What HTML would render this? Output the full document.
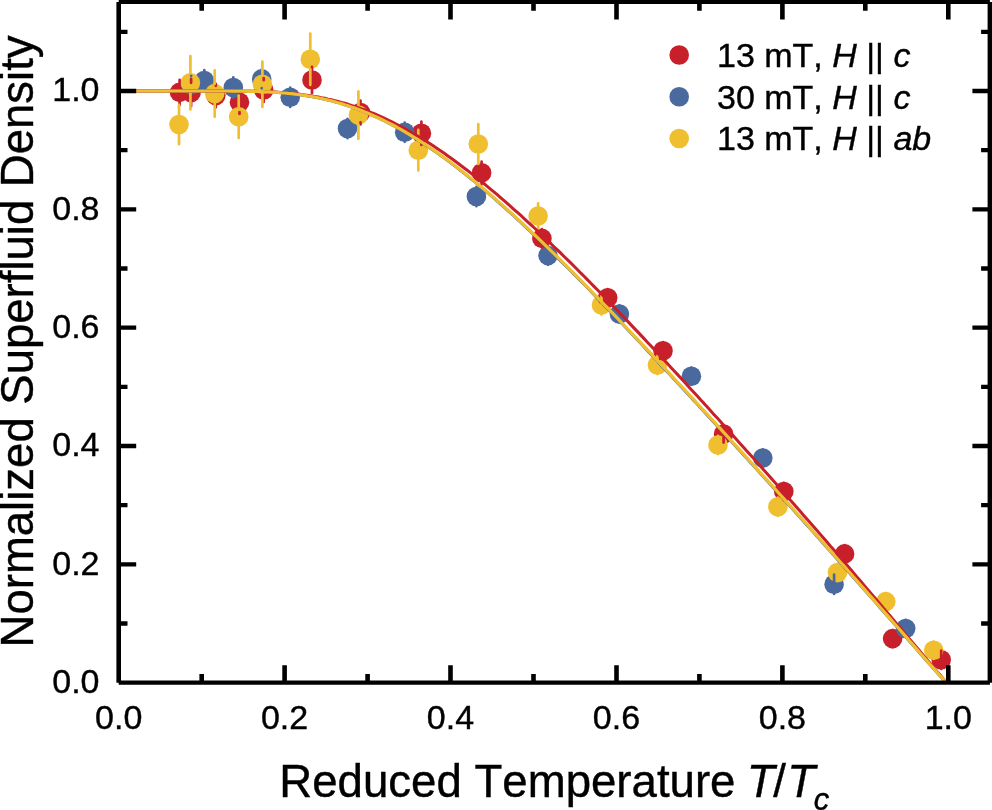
<!DOCTYPE html>
<html><head><meta charset="utf-8"><title>Normalized Superfluid Density</title>
<style>html,body{margin:0;padding:0;background:#fff}body{width:992px;height:810px;overflow:hidden}svg{display:block}text{font-kerning:none;stroke:#000;stroke-width:0.4px;font-family:"Liberation Sans",sans-serif;fill:#000}.i{font-style:italic}</style></head><body>
<svg width="992" height="810" viewBox="0 0 992 810">
<rect width="992" height="810" fill="#fff"/>
<g fill="#f0bf30"><circle cx="538.1" cy="216.0" r="9.8"/><circle cx="601.5" cy="305" r="9.8"/><circle cx="657.4" cy="365" r="9.8"/></g>
<g fill="#4a6a9f"><circle cx="548" cy="255.6" r="9.8"/><circle cx="619.4" cy="314" r="9.8"/><circle cx="691.4" cy="376.2" r="9.8"/></g>
<g fill="#c8202a"><circle cx="179.6" cy="92.4" r="9.8"/><circle cx="191.1" cy="92.6" r="9.8"/><circle cx="215.8" cy="95.6" r="9.8"/><circle cx="239.5" cy="102.3" r="9.8"/><circle cx="263.7" cy="90.0" r="9.8"/><circle cx="312" cy="80" r="9.8"/><circle cx="360.5" cy="112.5" r="9.8"/><circle cx="421.4" cy="133.3" r="9.8"/><circle cx="481.6" cy="172.8" r="9.8"/><circle cx="541.9" cy="238.4" r="9.8"/><circle cx="607.7" cy="297.7" r="9.8"/><circle cx="663" cy="350.8" r="9.8"/><circle cx="723.6" cy="434" r="9.8"/><circle cx="783.8" cy="491.5" r="9.8"/><circle cx="844.6" cy="553.9" r="9.8"/><circle cx="892.6" cy="638.6" r="9.8"/><circle cx="941.2" cy="659.8" r="9.8"/></g>
<g fill="#4a6a9f"><circle cx="191.1" cy="85.0" r="9.8"/><circle cx="204.3" cy="80.5" r="9.8"/><circle cx="233.3" cy="87.5" r="9.8"/><circle cx="261.7" cy="78.9" r="9.8"/><circle cx="290.2" cy="97.2" r="9.8"/><circle cx="347.5" cy="128.5" r="9.8"/><circle cx="404.7" cy="132.2" r="9.8"/><circle cx="476.4" cy="196.5" r="9.8"/><circle cx="762.8" cy="458" r="9.8"/><circle cx="834.1" cy="584.2" r="9.8"/><circle cx="905.7" cy="628.5" r="9.8"/></g>
<g fill="#f0bf30"><circle cx="179.0" cy="124.5" r="9.8"/><circle cx="190.4" cy="82.7" r="9.8"/><circle cx="214.7" cy="93.6" r="9.8"/><circle cx="238.7" cy="116.8" r="9.8"/><circle cx="262.4" cy="84.2" r="9.8"/><circle cx="310.3" cy="59.2" r="9.8"/><circle cx="358.4" cy="115.0" r="9.8"/><circle cx="418.3" cy="150.2" r="9.8"/><circle cx="478.3" cy="144.0" r="9.8"/><circle cx="718" cy="445" r="9.8"/><circle cx="777.9" cy="506.7" r="9.8"/><circle cx="837.5" cy="572.5" r="9.8"/><circle cx="885.8" cy="601.6" r="9.8"/><circle cx="933.7" cy="650.2" r="9.8"/></g>
<path stroke="#c8202a" stroke-width="2.7" stroke-linecap="round" fill="none" d="M179.6 79.8V82.6M179.6 102.2V105.1M191.1 78.9V82.8M191.1 102.4V106.2M215.8 83.9V85.8M215.8 105.4V107.2M239.5 90.6V92.5M239.5 112.1V114.0M263.7 78.0V80.2M263.7 99.8V102.0M312 66.8V70.2M312 89.8V93.2M360.5 100.5V102.7M360.5 122.3V124.5M421.4 121.7V123.5M421.4 143.1V145.0M481.6 161.5V163.0M481.6 182.6V184.2M541.9 229.2V247.6M607.7 289.1V306.3M663 342.2V359.4M723.6 425.4V442.6M783.8 482.9V500.1M844.6 545.2V562.5M892.6 630.0V647.2M941.2 650.6V668.9"/>
<path stroke="#4a6a9f" stroke-width="2.7" stroke-linecap="round" fill="none" d="M191.1 75.8v0.1M191.1 94.2v-0.1M204.3 70.1V70.7M204.3 90.3V90.9M233.3 77.3V77.7M233.3 97.3V97.7M261.7 69.5v0.1M261.7 88.3v-0.1M290.2 87.5v0.1M290.2 106.9v-0.1M347.5 118.8v0.1M347.5 138.2v-0.1M404.7 122.5v0.1M404.7 141.8v-0.1M476.4 186.8v0.1M476.4 206.2v-0.1M548 246.4V264.8M619.4 305.4V322.6M691.4 367.6V384.8M762.8 449.4V466.6M834.1 574.6V593.9M905.7 619.9V637.1"/>
<path stroke="#f0bf30" stroke-width="2.7" stroke-linecap="round" fill="none" d="M179.0 104.8V114.7M179.0 134.3V144.2M190.4 56.1V72.9M190.4 92.5V109.4M214.7 70.4V83.8M214.7 103.4V116.8M238.7 95.6V107.0M238.7 126.6V138.0M262.4 61.6V74.4M262.4 94.0V106.9M310.3 33.6V49.4M310.3 69.0V84.9M358.4 91.3V105.2M358.4 124.8V138.7M418.3 129.9V140.4M418.3 160.0V170.4M478.3 124.0V134.2M478.3 153.8V164.0M538.1 203.3V228.7M601.5 295.4V314.6M657.4 355.9V374.1M718 435.9V454.1M777.9 497.6V515.9M837.5 563.9V581.1M885.8 593.0V610.2M933.7 641.6V658.9"/>
<g fill="none" stroke-width="3.2" stroke-linejoin="round">
<path stroke="#4a6a9f" stroke-width="2.9" d="M118.7 91.0 L122.0 91.0 L125.3 91.0 L128.7 91.0 L132.0 91.0 L135.3 91.0 L138.6 91.0 L142.0 91.0 L145.3 91.0 L148.6 91.0 L151.9 91.0 L155.3 91.0 L158.6 91.0 L161.9 91.0 L165.2 91.0 L168.5 91.0 L171.9 91.0 L175.2 91.0 L178.5 91.0 L181.8 91.0 L185.2 91.0 L188.5 91.0 L191.8 91.0 L195.1 91.0 L198.4 91.0 L201.8 91.0 L205.1 91.0 L208.4 91.0 L211.7 91.0 L215.1 91.0 L218.4 91.0 L221.7 91.0 L225.0 91.0 L228.4 91.0 L231.7 91.1 L235.0 91.1 L238.3 91.1 L241.6 91.2 L245.0 91.2 L248.3 91.3 L251.6 91.3 L254.9 91.4 L258.3 91.5 L261.6 91.6 L264.9 91.8 L268.2 91.9 L271.5 92.1 L274.9 92.3 L278.2 92.5 L281.5 92.8 L284.8 93.1 L288.2 93.4 L291.5 93.7 L294.8 94.1 L298.1 94.5 L301.5 95.0 L304.8 95.5 L308.1 96.0 L311.4 96.6 L314.7 97.2 L318.1 97.8 L321.4 98.5 L324.7 99.3 L328.0 100.1 L331.4 100.9 L334.7 101.8 L338.0 102.7 L341.3 103.7 L344.6 104.8 L348.0 105.8 L351.3 107.0 L354.6 108.2 L357.9 109.4 L361.3 110.7 L364.6 112.0 L367.9 113.4 L371.2 114.8 L374.6 116.3 L377.9 117.8 L381.2 119.4 L384.5 121.0 L387.8 122.7 L391.2 124.5 L394.5 126.2 L397.8 128.1 L401.1 129.9 L404.5 131.8 L407.8 133.8 L411.1 135.8 L414.4 137.9 L417.7 139.9 L421.1 142.1 L424.4 144.3 L427.7 146.5 L431.0 148.7 L434.4 151.0 L437.7 153.4 L441.0 155.8 L444.3 158.2 L447.7 160.6 L451.0 163.1 L454.3 165.6 L457.6 168.2 L460.9 170.8 L464.3 173.4 L467.6 176.1 L470.9 178.8 L474.2 181.5 L477.6 184.2 L480.9 187.0 L484.2 189.8 L487.5 192.7 L490.8 195.5 L494.2 198.4 L497.5 201.4 L500.8 204.3 L504.1 207.3 L507.5 210.3 L510.8 213.3 L514.1 216.3 L517.4 219.4 L520.8 222.5 L524.1 225.6 L527.4 228.7 L530.7 231.8 L534.0 235.0 L537.4 238.1 L540.7 241.3 L544.0 244.6 L547.3 247.8 L550.7 251.0 L554.0 254.3 L557.3 257.6 L560.6 260.9 L563.9 264.2 L567.3 267.5 L570.6 270.8 L573.9 274.1 L577.2 277.5 L580.6 280.9 L583.9 284.2 L587.2 287.6 L590.5 291.0 L593.9 294.4 L597.2 297.9 L600.5 301.3 L603.8 304.7 L607.1 308.2 L610.5 311.6 L613.8 315.1 L617.1 318.6 L620.4 322.1 L623.8 325.6 L627.1 329.1 L630.4 332.6 L633.7 336.1 L637.0 339.6 L640.4 343.1 L643.7 346.6 L647.0 350.2 L650.3 353.7 L653.7 357.3 L657.0 360.8 L660.3 364.4 L663.6 367.9 L667.0 371.5 L670.3 375.1 L673.6 378.7 L676.9 382.2 L680.2 385.8 L683.6 389.4 L686.9 393.0 L690.2 396.6 L693.5 400.2 L696.9 403.8 L700.2 407.4 L703.5 411.0 L706.8 414.7 L710.1 418.3 L713.5 421.9 L716.8 425.5 L720.1 429.2 L723.4 432.8 L726.8 436.4 L730.1 440.1 L733.4 443.7 L736.7 447.4 L740.1 451.0 L743.4 454.7 L746.7 458.3 L750.0 462.0 L753.3 465.6 L756.7 469.3 L760.0 473.0 L763.3 476.7 L766.6 480.3 L770.0 484.0 L773.3 487.7 L776.6 491.4 L779.9 495.1 L783.2 498.7 L786.6 502.4 L789.9 506.1 L793.2 509.8 L796.5 513.5 L799.9 517.2 L803.2 521.0 L806.5 524.7 L809.8 528.4 L813.2 532.1 L816.5 535.8 L819.8 539.6 L823.1 543.3 L826.4 547.0 L829.8 550.8 L833.1 554.5 L836.4 558.2 L839.7 562.0 L843.1 565.7 L846.4 569.5 L849.7 573.2 L853.0 577.0 L856.3 580.8 L859.7 584.5 L863.0 588.3 L866.3 592.1 L869.6 595.8 L873.0 599.6 L876.3 603.4 L879.6 607.2 L882.9 611.0 L886.3 614.8 L889.6 618.6 L892.9 622.3 L896.2 626.1 L899.5 629.9 L902.9 633.7 L906.2 637.5 L909.5 641.3 L912.8 645.1 L916.2 648.9 L919.5 652.7 L922.8 656.5 L926.1 660.3 L929.4 664.1 L932.8 667.9 L936.1 671.6 L939.4 675.4 L942.7 679.1 L946.1 682.7"/>
<path stroke="#c8202a" stroke-width="3.0" d="M118.7 91.0 L122.0 91.0 L125.4 91.0 L128.7 91.0 L132.0 91.0 L135.3 91.0 L138.7 91.0 L142.0 91.0 L145.3 91.0 L148.6 91.0 L152.0 91.0 L155.3 91.0 L158.6 91.0 L161.9 91.0 L165.3 91.0 L168.6 91.0 L171.9 91.0 L175.2 91.0 L178.6 91.0 L181.9 91.0 L185.2 91.0 L188.5 91.0 L191.9 91.0 L195.2 91.0 L198.5 91.0 L201.8 91.0 L205.2 91.0 L208.5 91.0 L211.8 91.0 L215.1 91.0 L218.5 91.0 L221.8 91.0 L225.1 91.0 L228.4 91.0 L231.8 91.1 L235.1 91.1 L238.4 91.1 L241.7 91.1 L245.1 91.2 L248.4 91.2 L251.7 91.3 L255.0 91.3 L258.4 91.4 L261.7 91.5 L265.0 91.6 L268.3 91.8 L271.7 91.9 L275.0 92.1 L278.3 92.3 L281.6 92.5 L285.0 92.8 L288.3 93.0 L291.6 93.3 L294.9 93.7 L298.3 94.1 L301.6 94.5 L304.9 94.9 L308.2 95.4 L311.6 95.9 L314.9 96.4 L318.2 97.0 L321.5 97.7 L324.9 98.3 L328.2 99.1 L331.5 99.8 L334.9 100.6 L338.2 101.5 L341.5 102.4 L344.8 103.3 L348.2 104.3 L351.5 105.4 L354.8 106.4 L358.1 107.6 L361.5 108.8 L364.8 110.0 L368.1 111.3 L371.4 112.6 L374.8 114.0 L378.1 115.4 L381.4 116.9 L384.7 118.4 L388.1 120.0 L391.4 121.6 L394.7 123.3 L398.0 125.0 L401.4 126.8 L404.7 128.6 L408.0 130.4 L411.3 132.3 L414.7 134.2 L418.0 136.2 L421.3 138.2 L424.6 140.3 L428.0 142.4 L431.3 144.6 L434.6 146.8 L437.9 149.0 L441.3 151.3 L444.6 153.6 L447.9 155.9 L451.2 158.3 L454.6 160.7 L457.9 163.2 L461.2 165.7 L464.5 168.2 L467.9 170.8 L471.2 173.4 L474.5 176.0 L477.8 178.6 L481.2 181.3 L484.5 184.0 L487.8 186.8 L491.1 189.6 L494.5 192.4 L497.8 195.2 L501.1 198.1 L504.4 200.9 L507.8 203.9 L511.1 206.8 L514.4 209.8 L517.7 212.7 L521.1 215.7 L524.4 218.8 L527.7 221.8 L531.0 224.9 L534.4 228.0 L537.7 231.1 L541.0 234.2 L544.4 237.4 L547.7 240.6 L551.0 243.7 L554.3 247.0 L557.7 250.2 L561.0 253.4 L564.3 256.7 L567.6 259.9 L571.0 263.2 L574.3 266.5 L577.6 269.8 L580.9 273.2 L584.3 276.5 L587.6 279.9 L590.9 283.2 L594.2 286.6 L597.6 290.0 L600.9 293.4 L604.2 296.8 L607.5 300.3 L610.9 303.7 L614.2 307.2 L617.5 310.6 L620.8 314.1 L624.2 317.6 L627.5 321.1 L630.8 324.6 L634.1 328.1 L637.5 331.6 L640.8 335.1 L644.1 338.6 L647.4 342.2 L650.8 345.7 L654.1 349.3 L657.4 352.9 L660.7 356.4 L664.1 360.0 L667.4 363.6 L670.7 367.2 L674.0 370.8 L677.4 374.4 L680.7 378.0 L684.0 381.6 L687.3 385.2 L690.7 388.9 L694.0 392.5 L697.3 396.1 L700.6 399.8 L704.0 403.4 L707.3 407.1 L710.6 410.8 L713.9 414.4 L717.3 418.1 L720.6 421.8 L723.9 425.5 L727.2 429.1 L730.6 432.8 L733.9 436.5 L737.2 440.2 L740.5 444.0 L743.9 447.7 L747.2 451.4 L750.5 455.1 L753.9 458.8 L757.2 462.6 L760.5 466.3 L763.8 470.1 L767.2 473.8 L770.5 477.6 L773.8 481.3 L777.1 485.1 L780.5 488.8 L783.8 492.6 L787.1 496.4 L790.4 500.2 L793.8 504.0 L797.1 507.8 L800.4 511.6 L803.7 515.4 L807.1 519.2 L810.4 523.0 L813.7 526.8 L817.0 530.6 L820.4 534.4 L823.7 538.3 L827.0 542.1 L830.3 546.0 L833.7 549.8 L837.0 553.7 L840.3 557.5 L843.6 561.4 L847.0 565.3 L850.3 569.1 L853.6 573.0 L856.9 576.9 L860.3 580.8 L863.6 584.7 L866.9 588.6 L870.2 592.5 L873.6 596.4 L876.9 600.3 L880.2 604.2 L883.5 608.1 L886.9 612.1 L890.2 616.0 L893.5 619.9 L896.8 623.9 L900.2 627.8 L903.5 631.7 L906.8 635.7 L910.1 639.6 L913.5 643.6 L916.8 647.5 L920.1 651.5 L923.4 655.4 L926.8 659.4 L930.1 663.3 L933.4 667.2 L936.7 671.2 L940.1 675.1 L943.4 678.9 L946.7 682.7"/>
<path stroke="#f0bf30" d="M118.7 91.0 L122.0 91.0 L125.3 91.0 L128.7 91.0 L132.0 91.0 L135.3 91.0 L138.6 91.0 L142.0 91.0 L145.3 91.0 L148.6 91.0 L151.9 91.0 L155.3 91.0 L158.6 91.0 L161.9 91.0 L165.2 91.0 L168.6 91.0 L171.9 91.0 L175.2 91.0 L178.5 91.0 L181.9 91.0 L185.2 91.0 L188.5 91.0 L191.8 91.0 L195.2 91.0 L198.5 91.0 L201.8 91.0 L205.1 91.0 L208.4 91.0 L211.8 91.0 L215.1 91.0 L218.4 91.0 L221.7 91.0 L225.1 91.0 L228.4 91.0 L231.7 91.1 L235.0 91.1 L238.4 91.1 L241.7 91.2 L245.0 91.2 L248.3 91.3 L251.7 91.3 L255.0 91.4 L258.3 91.5 L261.6 91.6 L265.0 91.8 L268.3 91.9 L271.6 92.1 L274.9 92.3 L278.3 92.5 L281.6 92.8 L284.9 93.0 L288.2 93.4 L291.6 93.7 L294.9 94.1 L298.2 94.5 L301.5 94.9 L304.8 95.4 L308.2 96.0 L311.5 96.5 L314.8 97.1 L318.1 97.8 L321.5 98.5 L324.8 99.2 L328.1 100.0 L331.4 100.8 L334.8 101.7 L338.1 102.7 L341.4 103.6 L344.7 104.7 L348.1 105.7 L351.4 106.9 L354.7 108.0 L358.0 109.3 L361.4 110.6 L364.7 111.9 L368.0 113.3 L371.3 114.7 L374.7 116.2 L378.0 117.7 L381.3 119.3 L384.6 120.9 L387.9 122.6 L391.3 124.3 L394.6 126.0 L397.9 127.9 L401.2 129.7 L404.6 131.6 L407.9 133.6 L411.2 135.6 L414.5 137.6 L417.9 139.7 L421.2 141.8 L424.5 144.0 L427.8 146.2 L431.2 148.5 L434.5 150.8 L437.8 153.1 L441.1 155.5 L444.5 157.9 L447.8 160.3 L451.1 162.8 L454.4 165.3 L457.8 167.9 L461.1 170.5 L464.4 173.1 L467.7 175.8 L471.1 178.4 L474.4 181.2 L477.7 183.9 L481.0 186.7 L484.3 189.5 L487.7 192.3 L491.0 195.2 L494.3 198.1 L497.6 201.0 L501.0 203.9 L504.3 206.9 L507.6 209.9 L510.9 212.9 L514.3 215.9 L517.6 219.0 L520.9 222.0 L524.2 225.1 L527.6 228.2 L530.9 231.4 L534.2 234.5 L537.5 237.7 L540.9 240.9 L544.2 244.1 L547.5 247.3 L550.8 250.6 L554.2 253.8 L557.5 257.1 L560.8 260.4 L564.1 263.7 L567.4 267.0 L570.8 270.3 L574.1 273.7 L577.4 277.0 L580.7 280.4 L584.1 283.8 L587.4 287.2 L590.7 290.6 L594.0 294.0 L597.4 297.4 L600.7 300.8 L604.0 304.3 L607.3 307.7 L610.7 311.2 L614.0 314.6 L617.3 318.1 L620.6 321.6 L624.0 325.1 L627.3 328.6 L630.6 332.1 L633.9 335.6 L637.3 339.1 L640.6 342.6 L643.9 346.1 L647.2 349.7 L650.6 353.2 L653.9 356.8 L657.2 360.3 L660.5 363.9 L663.8 367.4 L667.2 371.0 L670.5 374.6 L673.8 378.2 L677.1 381.8 L680.5 385.3 L683.8 388.9 L687.1 392.5 L690.4 396.1 L693.8 399.7 L697.1 403.3 L700.4 407.0 L703.7 410.6 L707.1 414.2 L710.4 417.8 L713.7 421.4 L717.0 425.1 L720.4 428.7 L723.7 432.3 L727.0 436.0 L730.3 439.6 L733.7 443.3 L737.0 446.9 L740.3 450.6 L743.6 454.2 L746.9 457.9 L750.3 461.6 L753.6 465.2 L756.9 468.9 L760.2 472.6 L763.6 476.3 L766.9 479.9 L770.2 483.6 L773.5 487.3 L776.9 491.0 L780.2 494.7 L783.5 498.4 L786.8 502.1 L790.2 505.8 L793.5 509.5 L796.8 513.2 L800.1 516.9 L803.5 520.6 L806.8 524.3 L810.1 528.1 L813.4 531.8 L816.8 535.5 L820.1 539.2 L823.4 543.0 L826.7 546.7 L830.0 550.5 L833.4 554.2 L836.7 558.0 L840.0 561.7 L843.3 565.5 L846.7 569.2 L850.0 573.0 L853.3 576.8 L856.6 580.5 L860.0 584.3 L863.3 588.1 L866.6 591.9 L869.9 595.6 L873.3 599.4 L876.6 603.2 L879.9 607.0 L883.2 610.8 L886.6 614.6 L889.9 618.4 L893.2 622.2 L896.5 626.0 L899.9 629.8 L903.2 633.6 L906.5 637.4 L909.8 641.2 L913.2 645.0 L916.5 648.9 L919.8 652.7 L923.1 656.5 L926.4 660.3 L929.8 664.1 L933.1 667.8 L936.4 671.6 L939.7 675.4 L943.1 679.1 L946.4 682.7"/>
</g>
<g stroke="#000" fill="none">
<path stroke-width="4.3" d="M118.7 1.9H989.9M118.7 682.7H989.9M118.7 623.5h8.8M989.9 623.5h-8.8M118.7 564.4h17.5M989.9 564.4h-17.5M118.7 505.2h8.8M989.9 505.2h-8.8M118.7 446.0h17.5M989.9 446.0h-17.5M118.7 386.9h8.8M989.9 386.9h-8.8M118.7 327.7h17.5M989.9 327.7h-17.5M118.7 268.5h8.8M989.9 268.5h-8.8M118.7 209.3h17.5M989.9 209.3h-17.5M118.7 150.2h8.8M989.9 150.2h-8.8M118.7 91.0h17.5M989.9 91.0h-17.5M118.7 31.8h8.8M989.9 31.8h-8.8"/>
<path stroke-width="4.6" d="M118.7 1.9V682.7M989.9 1.9V682.7M201.7 682.7v-8.8M201.7 1.9v8.8M284.6 682.7v-17.5M284.6 1.9v17.5M367.6 682.7v-8.8M367.6 1.9v8.8M450.5 682.7v-17.5M450.5 1.9v17.5M533.5 682.7v-8.8M533.5 1.9v8.8M616.5 682.7v-17.5M616.5 1.9v17.5M699.4 682.7v-8.8M699.4 1.9v8.8M782.4 682.7v-17.5M782.4 1.9v17.5M865.3 682.7v-8.8M865.3 1.9v8.8M948.3 682.7v-17.5M948.3 1.9v17.5"/>
</g>
<g font-size="34">
<text x="118.7" y="729" text-anchor="middle">0.0</text>
<text x="284.6" y="729" text-anchor="middle">0.2</text>
<text x="450.5" y="729" text-anchor="middle">0.4</text>
<text x="616.5" y="729" text-anchor="middle">0.6</text>
<text x="782.4" y="729" text-anchor="middle">0.8</text>
<text x="948.3" y="729" text-anchor="middle">1.0</text>
<text x="99.5" y="693.0" text-anchor="end">0.0</text>
<text x="99.5" y="574.7" text-anchor="end">0.2</text>
<text x="99.5" y="456.3" text-anchor="end">0.4</text>
<text x="99.5" y="338.0" text-anchor="end">0.6</text>
<text x="99.5" y="219.6" text-anchor="end">0.8</text>
<text x="99.5" y="101.3" text-anchor="end">1.0</text>
</g>
<text x="279.3" y="797.4" font-size="45.6">Reduced Temperature <tspan class="i" dx="-1.5">T</tspan><tspan dx="-1.2">/</tspan><tspan class="i" dx="1.2">T</tspan><tspan class="i" font-size="31" dy="13" dx="-1.4">c</tspan></text>
<text transform="translate(33 647.4) rotate(-90)" font-size="45.5">Normalized Superfluid Density</text>
<circle cx="679.2" cy="55.0" r="9.8" fill="#c8202a"/>
<text x="717" y="66.8" font-size="34">13 mT, <tspan class="i">H</tspan> || <tspan class="i">c</tspan></text>
<circle cx="679.2" cy="96.8" r="9.8" fill="#4a6a9f"/>
<text x="717" y="108.5" font-size="34">30 mT, <tspan class="i">H</tspan> || <tspan class="i">c</tspan></text>
<circle cx="679.2" cy="138.5" r="9.8" fill="#f0bf30"/>
<text x="717" y="150.3" font-size="34">13 mT, <tspan class="i">H</tspan> || <tspan class="i">ab</tspan></text>
</svg></body></html>
